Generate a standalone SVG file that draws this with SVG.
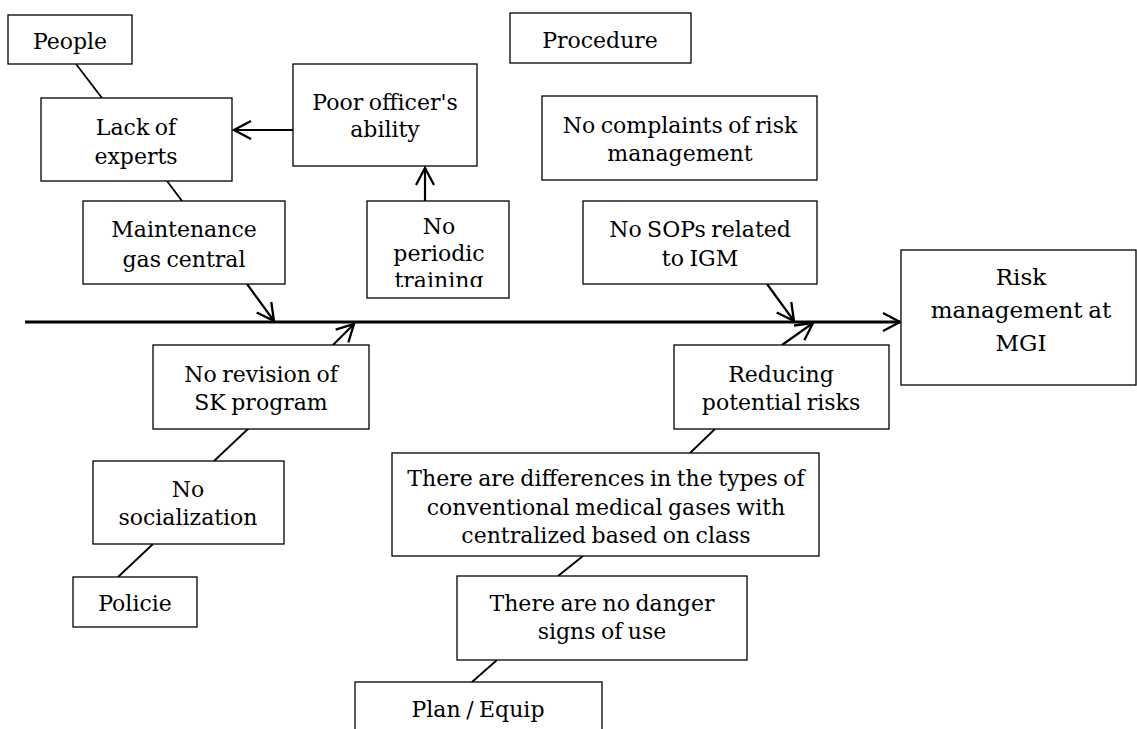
<svg xmlns="http://www.w3.org/2000/svg" width="1137" height="729" viewBox="0 0 1137 729">
<style>
.box{fill:#fff;stroke:#000;stroke-width:1.3}
.t{font-family:"DejaVu Serif","Liberation Serif",serif;font-size:22px;word-spacing:-1.5px;fill:#000;text-anchor:middle}
.big{font-size:23px}
.ln{stroke:#000;stroke-width:1.8;fill:none}
.ar{stroke:#000;stroke-width:2.2;fill:none}
.spine{stroke:#000;stroke-width:2.8;fill:none}
</style>
<defs>
<marker id="ah" markerUnits="userSpaceOnUse" viewBox="0 0 20 20" refX="18" refY="10" markerWidth="20" markerHeight="20" orient="auto">
<path d="M1,1 L18,10 L1,19" fill="none" stroke="#000" stroke-width="2.3"/>
</marker>
<clipPath id="clipTrain"><rect x="367" y="201" width="142" height="86"/></clipPath>
</defs>
<rect width="1137" height="729" fill="#fff"/>
<g id="connectors">
<line class="ln" x1="76" y1="64" x2="102" y2="98"/>
<line class="ln" x1="167" y1="181" x2="182" y2="201"/>
<line class="ar" x1="247" y1="284" x2="274" y2="321" marker-end="url(#ah)"/>
<line class="ar" x1="293" y1="130" x2="234" y2="130" marker-end="url(#ah)"/>
<line class="ar" x1="425" y1="201" x2="425" y2="168" marker-end="url(#ah)"/>
<line class="spine" x1="25" y1="322" x2="900" y2="322" marker-end="url(#ah)"/>
<line class="ar" x1="767" y1="284" x2="794" y2="321" marker-end="url(#ah)"/>
<line class="ar" x1="782" y1="345" x2="813" y2="323" marker-end="url(#ah)"/>
<line class="ar" x1="333" y1="345" x2="354" y2="324" marker-end="url(#ah)"/>
<line class="ln" x1="214" y1="461" x2="249" y2="428"/>
<line class="ln" x1="118" y1="577" x2="153" y2="544"/>
<line class="ln" x1="690" y1="453" x2="716" y2="428"/>
<line class="ln" x1="558" y1="576" x2="583" y2="556"/>
<line class="ln" x1="472" y1="682" x2="497" y2="660"/>
</g>
<g id="people"><rect class="box" x="8" y="15" width="124" height="49"/><text class="t" x="70" y="49">People</text></g>
<g id="procedure"><rect class="box" x="510" y="13" width="181" height="50"/><text class="t" x="600" y="48">Procedure</text></g>
<g id="lack-of-experts"><rect class="box" x="41" y="98" width="191" height="83"/><text class="t" x="136" y="135">Lack of</text><text class="t" x="136" y="164">experts</text></g>
<g id="poor-officer"><rect class="box" x="293" y="64" width="184" height="102"/><text class="t" x="385" y="110">Poor officer's</text><text class="t" x="385" y="137">ability</text></g>
<g id="no-complaints"><rect class="box" x="542" y="96" width="275" height="84"/><text class="t" x="680" y="133">No complaints of risk</text><text class="t" x="680" y="161">management</text></g>
<g id="maintenance"><rect class="box" x="83" y="201" width="202" height="83"/><text class="t" x="184" y="237">Maintenance</text><text class="t" x="184" y="267">gas central</text></g>
<g id="no-periodic-training"><rect class="box" x="367" y="201" width="142" height="97"/><g clip-path="url(#clipTrain)"><text class="t" x="439" y="234">No</text><text class="t" x="439" y="261">periodic</text><text class="t" x="439" y="288">training</text></g></g>
<g id="no-sops"><rect class="box" x="583" y="201" width="234" height="83"/><text class="t" x="700" y="237">No SOPs related</text><text class="t" x="700" y="266">to IGM</text></g>
<g id="risk-management"><rect class="box" x="901" y="250" width="235" height="135"/><text class="t big" x="1021" y="285">Risk</text><text class="t big" x="1021" y="318">management at</text><text class="t big" x="1021" y="351">MGI</text></g>
<g id="no-revision"><rect class="box" x="153" y="345" width="216" height="84"/><text class="t" x="261" y="382">No revision of</text><text class="t" x="261" y="410">SK program</text></g>
<g id="reducing"><rect class="box" x="674" y="345" width="215" height="84"/><text class="t" x="781" y="382">Reducing</text><text class="t" x="781" y="410">potential risks</text></g>
<g id="differences"><rect class="box" x="392" y="453" width="427" height="103"/><text class="t" x="606" y="486">There are differences in the types of</text><text class="t" x="606" y="515">conventional medical gases with</text><text class="t" x="606" y="543">centralized based on class</text></g>
<g id="no-socialization"><rect class="box" x="93" y="461" width="191" height="83"/><text class="t" x="188" y="497">No</text><text class="t" x="188" y="525">socialization</text></g>
<g id="policie"><rect class="box" x="73" y="577" width="124" height="50"/><text class="t" x="135" y="611">Policie</text></g>
<g id="no-danger"><rect class="box" x="457" y="576" width="290" height="84"/><text class="t" x="602" y="611">There are no danger</text><text class="t" x="602" y="639">signs of use</text></g>
<g id="plan-equip"><rect class="box" x="355" y="682" width="247" height="60"/><text class="t" x="478" y="717">Plan / Equip</text></g>
</svg>
